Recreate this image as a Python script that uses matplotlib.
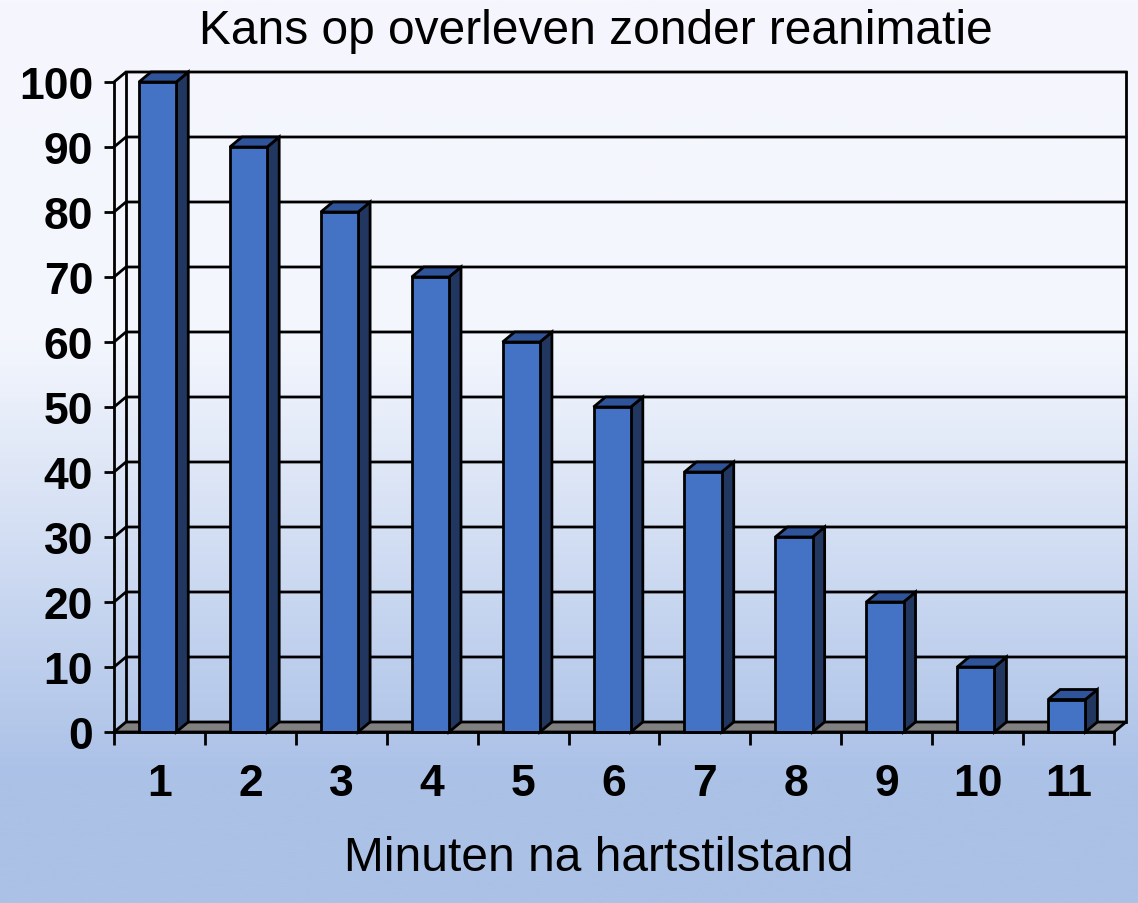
import matplotlib
matplotlib.use('Agg')
import matplotlib.pyplot as plt
import numpy as np
from matplotlib.patches import Polygon
from matplotlib.colors import LinearSegmentedColormap
from matplotlib.lines import Line2D

# ---- data ----
categories = ['1', '2', '3', '4', '5', '6', '7', '8', '9', '10', '11']
values = [100, 90, 80, 70, 60, 50, 40, 30, 20, 10, 5]
yticks = [0, 10, 20, 30, 40, 50, 60, 70, 80, 90, 100]
title = 'Kans op overleven zonder reanimatie'
xlabel = 'Minuten na hartstilstand'

plt.rcParams['font.family'] = ['Liberation Sans', 'DejaVu Sans']

W, H = 1138, 904
fig = plt.figure(figsize=(W / 100, H / 100), dpi=100)

# background gradient
bg = fig.add_axes([0, 0, 1, 1], zorder=-10)
bg.set_axis_off()
cmap = LinearSegmentedColormap.from_list(
    'bg', [(0.0, '#f6f7fd'), (0.38, '#f3f6fd'), (0.86, '#abc1e7'), (1.0, '#abc1e6')])
grad = np.linspace(0, 1, 512).reshape(-1, 1)
bg.imshow(grad, cmap=cmap, aspect='auto', extent=[0, 1, 0, 1], origin='upper')
bg.set_xlim(0, 1)
bg.set_ylim(0, 1)

# main axes = front frame
x0, x1 = 114, 1114
y0, y1 = 733, 83
ax = fig.add_axes([x0 / W, (H - y0) / H, (x1 - x0) / W, (y0 - y1) / H])
ax.patch.set_alpha(0)
n = len(categories)
ax.set_xlim(-0.5, n - 0.5)
ax.set_ylim(0, 100)

pxx = (x1 - x0) / n        # pixels per x unit
pxy = (y0 - y1) / 100.0    # pixels per y unit
ddx = 12 / pxx
ddy = 10 / pxy

lw = 2.0
ek = 'black'

# back wall gridlines
for yv in yticks[1:]:
    ax.add_line(Line2D([-0.5, -0.5 + ddx, n - 0.5 + ddx], [yv, yv + ddy, yv + ddy],
                       color=ek, lw=lw, clip_on=False, zorder=1, solid_joinstyle='miter'))
# back wall verticals
for xv in [-0.5 + ddx, n - 0.5 + ddx]:
    ax.add_line(Line2D([xv, xv], [ddy, 100 + ddy], color=ek, lw=lw, clip_on=False, zorder=1))

# floor
floor = Polygon([(-0.5, 0), (n - 0.5, 0), (n - 0.5 + ddx, ddy), (-0.5 + ddx, ddy)],
                closed=True, facecolor='#808080', edgecolor=ek, lw=lw, clip_on=False, zorder=2)
ax.add_patch(floor)

# bars
bw = 0.41
offs = -0.02
front_c = '#4472c4'
top_c = '#30549a'
side_c = '#213760'
for i, v in enumerate(values):
    xl = i + offs - bw / 2
    xr = i + offs + bw / 2
    side = Polygon([(xr, 0), (xr + ddx, ddy), (xr + ddx, v + ddy), (xr, v)], closed=True,
                   facecolor=side_c, edgecolor=ek, lw=lw, clip_on=False, zorder=3,
                   joinstyle='miter')
    top = Polygon([(xl, v), (xr, v), (xr + ddx, v + ddy), (xl + ddx, v + ddy)], closed=True,
                  facecolor=top_c, edgecolor=ek, lw=lw, clip_on=False, zorder=3,
                  joinstyle='miter')
    ax.add_patch(side)
    ax.add_patch(top)
ax.bar([i + offs for i in range(n)], values, width=bw, color=front_c, edgecolor=ek,
       linewidth=lw, zorder=4, clip_on=False)

# spines
for s in ['top', 'right']:
    ax.spines[s].set_visible(False)
ax.spines['left'].set_linewidth(lw)
ax.spines['bottom'].set_linewidth(lw)
ax.spines['left'].set_zorder(5)
ax.spines['bottom'].set_zorder(5)

# ticks
ax.set_yticks(yticks)
ax.set_yticklabels([str(t) for t in yticks], fontsize=32, fontweight='bold')
ax.tick_params(axis='y', length=7, width=lw, pad=8, direction='out')
ax.set_xticks(np.arange(-0.5, n, 1.0))
ax.set_xticklabels([])
ax.tick_params(axis='x', which='major', length=9, width=lw, direction='out')
ax.set_xticks(np.arange(n), minor=True)
ax.set_xticklabels(categories, minor=True, fontsize=32, fontweight='bold')
ax.tick_params(axis='x', which='minor', length=0, pad=22)

fig.text(596 / W, 1 - 31 / H, title, ha='center', va='center', fontsize=34.5)
fig.text(599 / W, 1 - 859 / H, xlabel, ha='center', va='center', fontsize=34.5)

fig.savefig('out.png', dpi=100)
